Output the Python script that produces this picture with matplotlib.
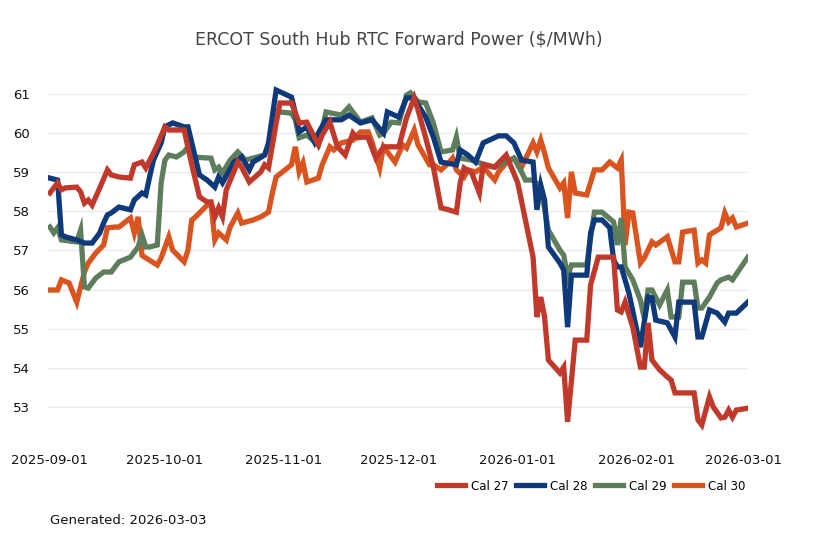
import matplotlib
matplotlib.use("Agg")
import matplotlib.pyplot as plt
import matplotlib.dates as mdates
import pandas as pd

START = pd.Timestamp("2025-09-01")

# Days after 2025-09-01 and forward prices ($/MWh)
cal27_days = [0, 2, 3, 4, 7, 8, 9, 10, 11, 13, 15, 16, 18, 21, 22, 24, 25, 27, 28, 30, 31, 35, 37, 39, 41, 42, 43, 44, 45, 46, 49, 50, 52, 55, 56, 57, 59, 60, 63, 64, 65, 67, 68, 70, 71, 73, 75, 77, 79, 80, 82, 83, 85, 87, 91, 93, 95, 96, 98, 100, 102, 104, 106, 107, 108, 110, 112, 113, 116, 117, 119, 122, 124, 126, 127, 128, 129, 130, 133, 134, 135, 137, 140, 141, 143, 147, 148, 149, 150, 152, 154, 155, 156, 157, 159, 161, 162, 163, 165, 168, 169, 170, 172, 173, 175, 176, 177, 178, 179, 182]
cal27_vals = [58.47, 58.73, 58.55, 58.60, 58.62, 58.50, 58.21, 58.29, 58.16, 58.60, 59.06, 58.93, 58.88, 58.85, 59.19, 59.26, 59.11, 59.49, 59.70, 60.16, 60.08, 60.08, 59.19, 58.37, 58.24, 58.24, 57.86, 58.09, 57.86, 58.55, 59.26, 59.13, 58.75, 59.01, 59.19, 59.11, 60.26, 60.77, 60.77, 60.51, 60.26, 60.28, 60.08, 59.70, 59.95, 60.28, 59.65, 59.44, 60.00, 59.88, 59.90, 59.88, 59.36, 59.65, 59.65, 60.39, 60.90, 60.59, 59.88, 59.13, 58.09, 58.04, 57.98, 58.73, 59.11, 58.98, 58.47, 59.19, 59.13, 59.24, 59.44, 58.73, 57.78, 56.83, 55.30, 55.81, 55.30, 54.20, 53.87, 54.02, 52.62, 54.71, 54.71, 56.12, 56.83, 56.83, 55.48, 55.43, 55.68, 55.04, 54.02, 54.02, 55.15, 54.20, 53.95, 53.77, 53.69, 53.36, 53.36, 53.36, 52.67, 52.54, 53.26, 53.00, 52.72, 52.74, 52.92, 52.74, 52.92, 52.97]

cal28_days = [0, 2, 3, 4, 7, 9, 11, 13, 14, 15, 16, 18, 21, 22, 24, 25, 26, 27, 29, 30, 32, 35, 36, 39, 41, 43, 44, 45, 48, 50, 52, 53, 56, 57, 59, 63, 64, 65, 67, 69, 70, 72, 76, 78, 81, 84, 87, 88, 91, 93, 95, 96, 98, 100, 102, 106, 107, 109, 111, 113, 117, 119, 121, 123, 126, 127, 128, 129, 130, 133, 134, 135, 136, 140, 141, 142, 144, 146, 147, 148, 149, 151, 154, 156, 157, 158, 161, 163, 164, 168, 169, 170, 172, 174, 176, 177, 179, 182]
cal28_vals = [58.85, 58.80, 57.40, 57.35, 57.27, 57.19, 57.19, 57.45, 57.70, 57.91, 57.96, 58.11, 58.04, 58.29, 58.47, 58.42, 58.88, 59.31, 59.75, 60.16, 60.26, 60.16, 60.16, 58.93, 58.80, 58.62, 58.88, 58.73, 59.26, 59.39, 59.06, 59.26, 59.44, 59.75, 61.10, 60.92, 60.51, 60.03, 60.16, 59.77, 60.00, 60.34, 60.34, 60.46, 60.26, 60.34, 60.00, 60.54, 60.41, 60.90, 60.90, 60.72, 60.41, 59.90, 59.26, 59.19, 59.57, 59.44, 59.26, 59.75, 59.93, 59.93, 59.75, 59.31, 59.26, 58.04, 58.67, 58.29, 57.09, 56.68, 56.50, 55.04, 56.37, 56.37, 57.45, 57.78, 57.78, 57.58, 56.76, 56.58, 56.58, 55.91, 54.53, 55.81, 55.79, 55.22, 55.15, 54.79, 55.68, 55.68, 54.79, 54.79, 55.48, 55.40, 55.17, 55.40, 55.40, 55.68]

cal29_days = [0, 1, 2, 3, 7, 8, 9, 10, 12, 14, 16, 18, 21, 23, 24, 25, 26, 28, 29, 30, 31, 33, 35, 36, 37, 42, 43, 44, 45, 47, 49, 51, 56, 57, 59, 60, 63, 64, 65, 67, 70, 72, 76, 78, 81, 84, 86, 87, 89, 91, 93, 94, 96, 98, 100, 102, 105, 106, 107, 110, 112, 116, 121, 123, 124, 126, 128, 130, 133, 134, 135, 136, 140, 142, 144, 147, 148, 149, 150, 152, 154, 155, 156, 157, 159, 161, 162, 164, 165, 168, 169, 170, 172, 174, 175, 177, 178, 182]
cal29_vals = [57.60, 57.45, 57.58, 57.27, 57.22, 57.52, 56.07, 56.04, 56.30, 56.45, 56.45, 56.71, 56.83, 57.09, 57.40, 57.09, 57.09, 57.14, 58.73, 59.31, 59.44, 59.39, 59.52, 59.65, 59.39, 59.36, 59.06, 59.13, 58.98, 59.31, 59.52, 59.31, 59.44, 59.65, 60.51, 60.54, 60.51, 60.34, 59.88, 59.95, 59.70, 60.54, 60.46, 60.67, 60.28, 60.39, 59.95, 60.00, 60.28, 60.26, 60.97, 61.03, 60.80, 60.77, 60.26, 59.52, 59.57, 59.90, 59.36, 59.31, 59.24, 59.13, 59.36, 59.01, 58.80, 58.80, 58.62, 57.52, 57.01, 56.88, 56.32, 56.63, 56.63, 57.98, 57.98, 57.73, 57.14, 57.83, 56.58, 56.25, 55.73, 55.27, 55.99, 55.99, 55.61, 55.99, 55.30, 55.30, 56.19, 56.19, 55.53, 55.53, 55.81, 56.17, 56.25, 56.32, 56.25, 56.83]

cal30_days = [0, 2, 3, 5, 7, 8, 9, 10, 12, 14, 15, 17, 18, 21, 22, 23, 24, 25, 28, 29, 31, 32, 35, 36, 37, 38, 41, 42, 43, 44, 46, 47, 49, 50, 53, 55, 57, 58, 59, 63, 64, 65, 66, 67, 70, 71, 73, 74, 76, 79, 81, 83, 84, 86, 87, 90, 92, 93, 95, 96, 99, 100, 102, 104, 105, 106, 108, 109, 111, 113, 116, 117, 119, 121, 123, 126, 127, 128, 129, 130, 133, 134, 135, 136, 137, 140, 142, 144, 146, 148, 149, 150, 151, 152, 154, 155, 157, 158, 161, 163, 164, 165, 168, 169, 170, 171, 172, 175, 176, 177, 178, 179, 182]
cal30_vals = [55.99, 55.99, 56.25, 56.17, 55.68, 56.07, 56.45, 56.68, 56.94, 57.14, 57.58, 57.60, 57.60, 57.83, 57.45, 57.86, 56.88, 56.81, 56.63, 56.81, 57.35, 57.01, 56.71, 57.01, 57.78, 57.86, 58.16, 58.21, 57.27, 57.45, 57.27, 57.60, 57.96, 57.70, 57.78, 57.86, 57.98, 58.47, 58.88, 59.19, 59.65, 59.01, 59.24, 58.75, 58.85, 59.19, 59.65, 59.57, 59.75, 59.82, 60.03, 60.03, 59.77, 59.11, 59.65, 59.26, 59.70, 59.62, 60.08, 59.70, 59.19, 59.19, 59.06, 59.24, 59.36, 59.06, 58.88, 59.06, 59.01, 59.13, 58.80, 59.01, 59.24, 59.36, 59.13, 59.75, 59.52, 59.82, 59.49, 59.11, 58.60, 58.73, 57.83, 59.01, 58.47, 58.42, 59.06, 59.06, 59.26, 59.11, 59.31, 57.14, 57.98, 57.96, 56.68, 56.81, 57.22, 57.14, 57.35, 56.71, 56.71, 57.47, 57.52, 56.68, 56.76, 56.68, 57.40, 57.58, 57.96, 57.73, 57.83, 57.60, 57.70]

series_names = ["Cal 27", "Cal 28", "Cal 29", "Cal 30"]
series_days = [cal27_days, cal28_days, cal29_days, cal30_days]
series_vals = [cal27_vals, cal28_vals, cal29_vals, cal30_vals]
colors = ["#c0392b", "#0e3a7b", "#5e7d5c", "#d9541e"]

tick_dates = ["2025-09-01", "2025-10-01", "2025-11-01", "2025-12-01",
              "2026-01-01", "2026-02-01", "2026-03-01"]
y_ticks = [53, 54, 55, 56, 57, 58, 59, 60, 61]

fig = plt.figure(figsize=(8.18, 5.45), dpi=100)
ax = fig.add_axes([48 / 818, 1 - 438.3 / 545, 699.8 / 818, (438.3 - 66.6) / 545])

handles = {}
# draw Cal 30 first so that Cal 27 sits on top
for i in reversed(range(4)):
    d = START + pd.to_timedelta(series_days[i], unit="D")
    (ln,) = ax.plot(d, series_vals[i], color=colors[i], lw=3.8,
                    solid_joinstyle="miter", zorder=3 + (4 - i))
    handles[series_names[i]] = ln

ax.set_xlim(START - pd.Timedelta(days=0.5), START + pd.Timedelta(days=182))
ax.set_ylim(52.2, 61.7)
ax.set_yticks(y_ticks)
ax.set_xticks(pd.to_datetime(tick_dates))
ax.xaxis.set_major_formatter(mdates.DateFormatter("%Y-%m-%d"))
ax.tick_params(axis="both", length=0, labelsize=9.5, colors="#111111")
ax.tick_params(axis="x", pad=11)
ax.tick_params(axis="y", pad=13)
for s in ax.spines.values():
    s.set_visible(False)
ax.grid(axis="y", color="#ebebeb", lw=1)
ax.grid(axis="x", visible=False)
ax.set_axisbelow(True)

fig.text(399 / 818, 1 - 39 / 545, "ERCOT South Hub RTC Forward Power ($/MWh)",
         ha="center", va="center", fontsize=12.5, color="#444444")

fig.legend([handles[n] for n in series_names], series_names,
           loc="center right", bbox_to_anchor=(756 / 818, 1 - 486 / 545),
           ncol=4, frameon=False, fontsize=8.5, handlelength=2.4,
           handletextpad=0.5, columnspacing=0.6)

fig.text(50 / 818, 1 - 521 / 545, "Generated: 2026-03-03", ha="left",
         va="center", fontsize=9.5, color="#111111")

fig.savefig("out.png", dpi=100)
